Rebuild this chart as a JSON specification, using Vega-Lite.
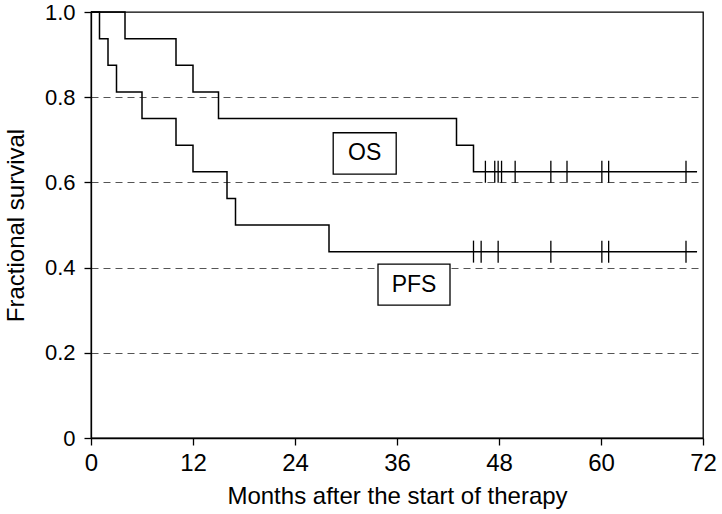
{
  "$schema": "https://vega.github.io/schema/vega-lite/v6.json",
  "width": 612,
  "height": 426,
  "autosize": {"type": "none"},
  "padding": {"left": 91, "top": 12, "right": 19, "bottom": 76},
  "background": "white",
  "config": {
    "view": {"stroke": "black", "strokeWidth": 1.3},
    "font": "Liberation Sans",
    "axis": {
      "domainColor": "black",
      "domainWidth": 1.3,
      "tickColor": "black",
      "tickWidth": 1.3,
      "tickSize": 7,
      "labelColor": "black",
      "titleColor": "black",
      "labelFont": "Liberation Sans",
      "titleFont": "Liberation Sans",
      "labelFontSize": 22,
      "titleFontSize": 24,
      "titleFontWeight": "normal"
    }
  },
  "datasets": {
    "curves": [
      {"curve": "OS", "month": 0, "survival": 1},
      {"curve": "OS", "month": 4, "survival": 0.9375},
      {"curve": "OS", "month": 10, "survival": 0.875},
      {"curve": "OS", "month": 12, "survival": 0.8125},
      {"curve": "OS", "month": 15, "survival": 0.75},
      {"curve": "OS", "month": 43, "survival": 0.6875},
      {"curve": "OS", "month": 45, "survival": 0.625},
      {"curve": "OS", "month": 71.3, "survival": 0.625},
      {"curve": "PFS", "month": 0, "survival": 1},
      {"curve": "PFS", "month": 1, "survival": 0.9375},
      {"curve": "PFS", "month": 2, "survival": 0.875},
      {"curve": "PFS", "month": 3, "survival": 0.8125},
      {"curve": "PFS", "month": 6, "survival": 0.75},
      {"curve": "PFS", "month": 10, "survival": 0.6875},
      {"curve": "PFS", "month": 12, "survival": 0.625},
      {"curve": "PFS", "month": 16, "survival": 0.5625},
      {"curve": "PFS", "month": 17, "survival": 0.5},
      {"curve": "PFS", "month": 28, "survival": 0.4375},
      {"curve": "PFS", "month": 71.3, "survival": 0.4375}
    ],
    "censors": [
      {"curve": "OS", "month": 46.4, "survival": 0.625},
      {"curve": "OS", "month": 47.5, "survival": 0.625},
      {"curve": "OS", "month": 47.9, "survival": 0.625},
      {"curve": "OS", "month": 48.3, "survival": 0.625},
      {"curve": "OS", "month": 49.9, "survival": 0.625},
      {"curve": "OS", "month": 54.1, "survival": 0.625},
      {"curve": "OS", "month": 56.0, "survival": 0.625},
      {"curve": "OS", "month": 60.1, "survival": 0.625},
      {"curve": "OS", "month": 60.9, "survival": 0.625},
      {"curve": "OS", "month": 70.0, "survival": 0.625},
      {"curve": "PFS", "month": 45.0, "survival": 0.4375},
      {"curve": "PFS", "month": 45.9, "survival": 0.4375},
      {"curve": "PFS", "month": 47.9, "survival": 0.4375},
      {"curve": "PFS", "month": 54.1, "survival": 0.4375},
      {"curve": "PFS", "month": 60.1, "survival": 0.4375},
      {"curve": "PFS", "month": 60.9, "survival": 0.4375},
      {"curve": "PFS", "month": 70.0, "survival": 0.4375}
    ],
    "labels": [
      {"label": "OS", "month": 32.2, "survival": 0.668},
      {"label": "PFS", "month": 38, "survival": 0.36}
    ]
  },
  "layer": [
    {
      "data": {"name": "curves"},
      "mark": {"type": "line", "interpolate": "step-after", "color": "black", "strokeWidth": 1.5},
      "encoding": {
        "x": {
          "field": "month", "type": "quantitative",
          "scale": {"domain": [0, 72], "nice": false},
          "axis": {
            "values": [0, 12, 24, 36, 48, 60, 72],
            "title": "Months after the start of therapy",
            "grid": false,
            "labelFlush": false,
            "labelFontSize": 24,
            "labelPadding": 6,
            "titlePadding": 9
          }
        },
        "y": {
          "field": "survival", "type": "quantitative",
          "scale": {"domain": [0, 1], "nice": false},
          "axis": {
            "values": [0, 0.2, 0.4, 0.6, 0.8, 1],
            "labelExpr": "datum.value == 0 ? '0' : format(datum.value, '.1f')",
            "grid": true,
            "gridDash": [7, 5],
            "gridColor": "#555555",
            "gridWidth": 1,
            "gridOpacity": {"condition": {"test": "datum.value == 0 || datum.value == 1", "value": 0}, "value": 1},
            "title": "Fractional survival",
            "labelPadding": 9,
            "titlePadding": 16
          }
        },
        "detail": {"field": "curve"}
      }
    },
    {
      "data": {"name": "censors"},
      "mark": {"type": "tick", "orient": "vertical", "size": 22, "thickness": 1.3, "color": "black", "opacity": 1},
      "encoding": {
        "x": {"field": "month", "type": "quantitative"},
        "y": {"field": "survival", "type": "quantitative"}
      }
    },
    {
      "data": {"name": "labels"},
      "transform": [{"filter": "datum.label == 'OS'"}],
      "mark": {"type": "point", "shape": "M-1,-0.656L1,-0.656L1,0.656L-1,0.656Z", "size": 3969, "filled": false, "stroke": "black", "strokeWidth": 1.3, "fill": "white", "fillOpacity": 1, "opacity": 1},
      "encoding": {
        "x": {"field": "month", "type": "quantitative"},
        "y": {"field": "survival", "type": "quantitative"}
      }
    },
    {
      "data": {"name": "labels"},
      "transform": [{"filter": "datum.label == 'PFS'"}],
      "mark": {"type": "point", "shape": "M-1,-0.57L1,-0.57L1,0.57L-1,0.57Z", "size": 5184, "filled": false, "stroke": "black", "strokeWidth": 1.3, "fill": "white", "fillOpacity": 1, "opacity": 1},
      "encoding": {
        "x": {"field": "month", "type": "quantitative"},
        "y": {"field": "survival", "type": "quantitative"}
      }
    },
    {
      "data": {"name": "labels"},
      "mark": {"type": "text", "font": "Liberation Sans", "fontSize": 23, "color": "black", "align": "center", "baseline": "middle"},
      "encoding": {
        "x": {"field": "month", "type": "quantitative"},
        "y": {"field": "survival", "type": "quantitative"},
        "text": {"field": "label"}
      }
    }
  ]
}
